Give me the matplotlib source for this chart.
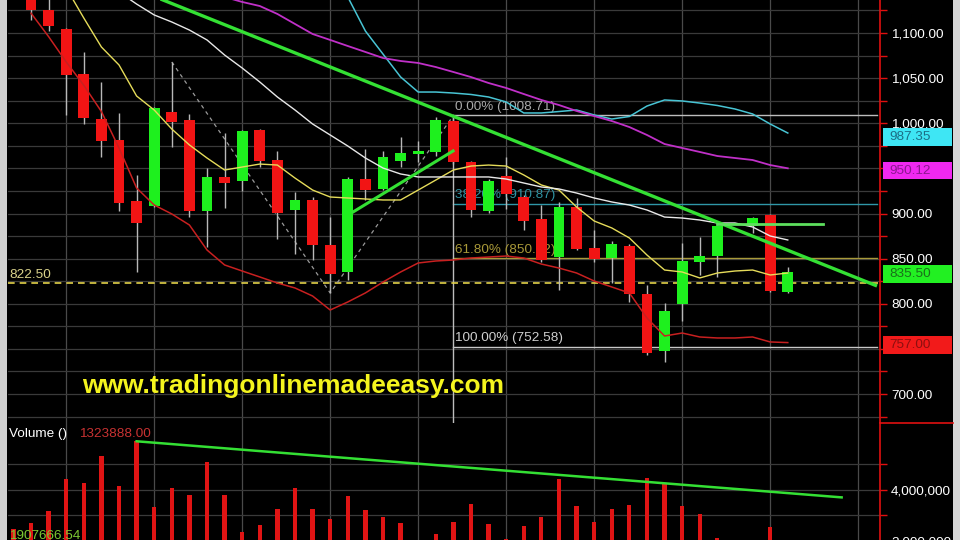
import numpy as np
import matplotlib
matplotlib.use("Agg")
import matplotlib.pyplot as plt
from matplotlib.patches import Rectangle
from matplotlib.lines import Line2D
import matplotlib.transforms as mtransforms
from matplotlib.ticker import FixedLocator, FuncFormatter

plt.rcParams['font.family'] = ['Liberation Sans', 'DejaVu Sans']

nan = np.nan
# ---------------- data ----------------
day = list(range(-1, 44))
opens = [nan, 1145.4, 1125.5, 1104.4, 1054.6, 1004.7, 981.4, 913.9, 908.3, 1012.5, 1003.6,
         902.8, 940.5, 936.0, 992.5, 959.3, 903.9, 915.0, 865.1, 835.2, 938.2,
         927.2, 958.2, 966.0, 968.2, 1002.5, 957.1, 902.8, 941.6, 918.3, 893.9,
         851.8, 907.2, 861.8, 850.7, 864.0, 810.8, 747.7, 799.7, 846.3, 852.9,
         nan, 886.2, 898.3, 813.0]
highs = [nan, 1153, 1140, 1106, 1079, 1045.7, 1011.4, 942.7, 1017.5, 1067.9, 1010.3,
         950.4, 989.2, 992.5, 994, 969.3, 923.8, 918.3, 896.1, 940.5, 971.5,
         969.3, 984.8, 980.4, 1007.0, 1008.71, 958.5, 938, 962.6, 920.5, 909.4,
         912.8, 917.2, 881.7, 869.5, 866, 820.8, 800.8, 867.3, 874.0, 887,
         nan, 896.5, 899.5, 840.7]
lows = [nan, 1114.4, 1102.2, 1009.2, 999.2, 962.6, 902.8, 835.2, 907.0, 973.7, 896.1,
        862.9, 906.1, 925.0, 951.5, 871.8, 855.1, 848.5, 812.0, 826.3, 915.0,
        926.0, 951.5, 957.1, 963.7, 955.0, 896.1, 900.6, 905.0, 881.7, 846.3,
        815.3, 859.6, 846.3, 823.0, 802.0, 743.2, 735.5, 780.9, 831.9, 829.7,
        nan, 878.4, 812.5, 812.0]
closes = [nan, 1125.5, 1107.8, 1053.5, 1005.8, 980.3, 911.6, 889.5, 1016.9, 1001.4, 902.8,
          940.5, 933.8, 991.4, 958.2, 900.6, 915.0, 865.1, 833.0, 938.2, 926.1,
          962.6, 967.0, 969.3, 1003.6, 957.1, 903.9, 936.0, 921.6, 891.7, 848.5,
          907.2, 860.7, 849.6, 866.2, 810.8, 745.5, 792.0, 847.4, 852.9, 886.2,
          nan, 895.0, 814.2, 835.5]
volume_m = [2.47, 2.69, 3.16, 4.45, 4.27, 5.33, 4.16, 5.91, 3.33, 4.07, 3.80,
            5.09, 3.80, 2.36, 2.63, 3.27, 4.07, 3.27, 2.87, 3.76, 3.23,
            2.96, 2.72, 1.80, 2.27, 2.73, 3.47, 2.67, 2.07, 2.60, 2.96,
            4.43, 3.36, 2.76, 3.27, 3.40, 4.47, 4.24, 3.36, 3.07, 2.11,
            nan, 1.80, 2.56, 1.90]
ma_yellow = [nan, 1210, 1181, 1150, 1116.6, 1084.5, 1064.6, 1030.2, 1014.7, 993.6, 976.0,
             961.5, 948.2, 951.5, 954.8, 953.7, 939.3, 926.0, 918.3, 917.2, 916.1,
             915.0, 915.0, 926.0, 937.1, 948.2, 952.6, 953.7, 952.6, 942.7, 931.6,
             926.0, 907.2, 891.7, 884.0, 872.9, 854.0, 837.4, 835.2, 828.6, 834.1,
             836.3, 837.4, 831.9, 834.1]
ma_white = [nan, 1214.1, 1200.8, 1186.4, 1172.0, 1158.7, 1145.4, 1132.1, 1120.0, 1112.2, 1103.3,
            1092.3, 1075.6, 1061.2, 1045.7, 1029.1, 1014.7, 999.2, 987.0, 974.8, 961.5,
            950.4, 943.8, 940.5, 940.5, 940.5, 940.5, 940.5, 938.2, 933.8, 929.4,
            927.2, 922.7, 917.2, 912.8, 909.4, 903.9, 896.1, 895.0, 892.8, 889.5,
            889.5, 885.1, 875.1, 870.7]
ma_red = [nan, 1122, 1096, 1068, 1042, 1013, 972.6, 928.3, 909.4, 899.5, 887.3,
          859.6, 843.0, 836.3, 829.7, 823.0, 817.5, 808.6, 793.1, 802.0, 812.0,
          824.1, 835.2, 845.2, 847.4, 848.5, 850.7, 851.8, 852.9, 850.7, 844.0,
          839.6, 834.1, 825.2, 818.6, 812.0, 784.2, 764.3, 767.6, 763.2, 762.1,
          762.1, 763.2, 757.7, 757.0]
ma_cyan = [nan] * 18 + [1180.9, 1139.9, 1102.2, 1076.7, 1051.3, 1034.6, 1034.6, 1033.5, 1031.9,
                        1029.1, 1023.6, 1011.4, 1011.4, 1013.0, 1014.7, 1009.2, 1004.7, 1007.5,
                        1019.1, 1025.8, 1024.7, 1022.4, 1019.7, 1015.8, 1010.3, 999.2, 989.2]
ma_magenta = [nan] * 9 + [1160, 1153, 1146, 1139.9, 1134.4, 1129.9, 1121.1, 1110.0, 1098.9,
                          1092.3, 1085.6, 1079.0, 1072.3, 1069.0, 1066.8, 1062.3, 1056.8, 1051.2,
                          1044.6, 1039.1, 1032.4, 1025.8, 1020.2, 1013.6, 1008.0, 1002.5, 995.8,
                          987.0, 977.0, 972.6, 968.2, 963.7, 961.5, 959.3, 953.7, 950.1]

trend_day = [6.0, 48.07]
trend_price = [1148.3, 819.7]
support_day = [18.3, 23.98]
support_price = [901.7, 969.3]
resist_day = [38.97, 45.0]
resist_price = [888.4, 888.4]
zigzag_day = [8, 17, 24]
zigzag_price = [1067.9, 812.0, 1008.71]
vol_trend_day = [6.0, 46.06]
vol_trend_m = [5.91, 3.71]
fib_start_day = 24
fib_end_day = 48.07
fib_levels = [1008.71, 910.87, 850.42, 752.58]
fib_labels = ["0.00% (1008.71)", "38.20% (910.87)", "61.80% (850.42)", "100.00% (752.58)"]
fib_colors = ['#bdbdbd', '#2f97a8', '#a89a3a', '#c8c8c8']
fib_text_colors = ['#a8a8a8', '#2f93a3', '#a89838', '#cfcfcf']
ref_level = 822.50
price_ticks = [700, 750, 800, 850, 900, 950, 1000, 1050, 1100, 1150]
covered_ticks = [750, 950]   # hidden under the coloured value boxes
value_labels = ["987.35", "950.12", "835.50", "757.00"]
value_positions = [987.35, 950.12, 835.50, 757.00]
value_bg = ['#3ee6f4', '#f028f0', '#22f022', '#f21a1a']
value_fg = ['#1c6f86', '#8c1690', '#1a6e1a', '#8c0f0f']

# ---------------- layout ----------------
W, H = 960, 540
fig = plt.figure(figsize=(9.6, 5.4), dpi=100, facecolor='black')
L, R = 8, 880
PB = 423
ax = fig.add_axes([L / W, 1 - PB / H, (R - L) / W, PB / H], facecolor='black')
axv = fig.add_axes([L / W, -4 / H, (R - L) / W, (H - PB + 4) / H], facecolor='black')

xlim = (-1.307, 48.24)
for a in (ax, axv):
    a.set_xlim(*xlim)
    for s in ('left', 'top', 'bottom'):
        a.spines[s].set_visible(False)
    a.spines['right'].set_color('#e01010')
    a.spines['right'].set_linewidth(1.2)
    a.yaxis.tick_right()
    a.xaxis.set_major_locator(FixedLocator([2, 7, 12, 17, 22, 27, 32, 37, 42, 47]))
    a.tick_params(axis='x', length=0, labelbottom=False)
    a.tick_params(axis='y', which='both', colors='#e01010', length=5, width=1,
                  labelcolor='white', labelsize=9.7, pad=3)
    a.grid(True, axis='x', color='#4a4a4a', lw=0.9, zorder=0)
    a.grid(True, axis='y', which='both', color='#3a3a3a', lw=0.9, zorder=0)
    a.set_axisbelow(True)

ax.set_ylim(667.9, 1136.57)
ax.yaxis.set_major_locator(FixedLocator(price_ticks))
ax.yaxis.set_minor_locator(FixedLocator([t - 25 for t in price_ticks]))
ax.yaxis.set_major_formatter(FuncFormatter(
    lambda v, p: "" if round(v) in covered_ticks else f"{v:,.2f}"))

axv.set_ylim(1.882e6, 6.627e6)
axv.yaxis.set_major_locator(FixedLocator([2e6, 4e6]))
axv.yaxis.set_minor_locator(FixedLocator([3e6, 5e6]))
axv.yaxis.set_major_formatter(FuncFormatter(lambda v, p: f"{v:,.0f}"))

d = np.array(day, dtype=float)
o = np.array(opens); h = np.array(highs); lo = np.array(lows); c = np.array(closes)

# fib levels (below candles)
for lev, lab, col, tcol in zip(fib_levels, fib_labels, fib_colors, fib_text_colors):
    ax.plot([fib_start_day, fib_end_day], [lev, lev], color=col, lw=1.0, zorder=1.2)
    ax.text(fib_start_day + 0.1, lev + 2.5, lab, color=tcol, fontsize=9.7,
            va='bottom', ha='left', zorder=1.3)
ax.plot([fib_start_day, fib_start_day], [fib_levels[0], 600], color='#bdbdbd', lw=1.0, zorder=1.2)

# reference dashed level
ax.axhline(ref_level, color='#e3d24a', lw=1.2, ls=(0, (4, 3)), zorder=1.4)
ax.text(xlim[0] + 0.05, ref_level + 3, f"{ref_level:.2f}", color='#d9d28a', fontsize=9.7,
        va='bottom', ha='left', zorder=1.5)

# zigzag dotted
ax.plot(zigzag_day, zigzag_price, color='#9a9a9a', lw=0.9, ls=(0, (3, 3)), zorder=1.5)

# candles
valid = ~np.isnan(o)
up = valid & (c >= o)
dn = valid & (c < o)
ax.vlines(d[valid], lo[valid], h[valid], color='#b8b8b8', lw=1.0, zorder=2)
ax.bar(d[up], (c - o)[up], bottom=o[up], width=0.62, color='#1ef01e', zorder=2.2)
ax.bar(d[dn], (o - c)[dn], bottom=c[dn], width=0.62, color='#f21414', zorder=2.2)

# moving averages
ax.plot(d, ma_yellow, color='#e6dc5a', lw=1.0, zorder=3)
ax.plot(d, ma_white, color='#e8e8e8', lw=1.0, zorder=3)
ax.plot(d, ma_red, color='#c82020', lw=1.1, zorder=3)
ax.plot(d, ma_cyan, color='#48c4d4', lw=1.1, zorder=3)
ax.plot(d, ma_magenta, color='#c030c8', lw=1.3, zorder=3)

# trend lines
ax.plot(trend_day, trend_price, color='#34e034', lw=2.4, zorder=4, solid_capstyle='butt')
ax.plot(support_day, support_price, color='#34e034', lw=2.2, zorder=4)
ax.plot(resist_day, resist_price, color='#5ee05e', lw=2.0, zorder=4)

# website text
ax.text(0.327, 0.088, "www.tradingonlinemadeeasy.com", transform=ax.transAxes,
        color='#f4f41e', fontsize=19, fontweight='bold', ha='center', va='center', zorder=5)

# value boxes on the price axis
bt = mtransforms.blended_transform_factory(fig.transFigure, ax.transData)
bh = 19.5
for lab, val, bg, fg in zip(value_labels, value_positions, value_bg, value_fg):
    ax.add_patch(Rectangle((883 / W, val - 2.5 - bh / 2), 69 / W, bh, transform=bt,
                           facecolor=bg, edgecolor='none', clip_on=False, zorder=6))
    ax.text(889 / W, val - 2.5, lab, transform=bt, color=fg, fontsize=9.7,
            ha='left', va='center', zorder=7, clip_on=False)

# volume
vm = np.array(volume_m) * 1e6
vv = ~np.isnan(vm)
axv.bar(d[vv], vm[vv], width=0.24, color='#e01414', zorder=2)
axv.plot(vol_trend_day, np.array(vol_trend_m) * 1e6, color='#34e034', lw=1.8, zorder=3)

fig.text(9 / W, 1 - 434 / H, "Volume ()", color='white', fontsize=9.7, va='center', ha='left')
fig.text(79 / W, 1 - 434 / H, "1323888.00", color='#c83232', fontsize=9.7, va='center', ha='left')
fig.text(9 / W, 1 - 536 / H, "1907666.54", color='#7cc832', fontsize=9.7, va='center', ha='left')

# frame pieces
fig.add_artist(Line2D([R / W, 953 / W], [1 - PB / H, 1 - PB / H], color='#e01010', lw=1.2))
fig.add_artist(Rectangle((0, 0), 7 / W, 1, transform=fig.transFigure, facecolor='#d0d0d0',
                         edgecolor='none'))
fig.add_artist(Rectangle((953 / W, 0), 7 / W, 1, transform=fig.transFigure, facecolor='#d6d6d6',
                         edgecolor='none'))

fig.savefig('out.png', dpi=100, facecolor='black')
